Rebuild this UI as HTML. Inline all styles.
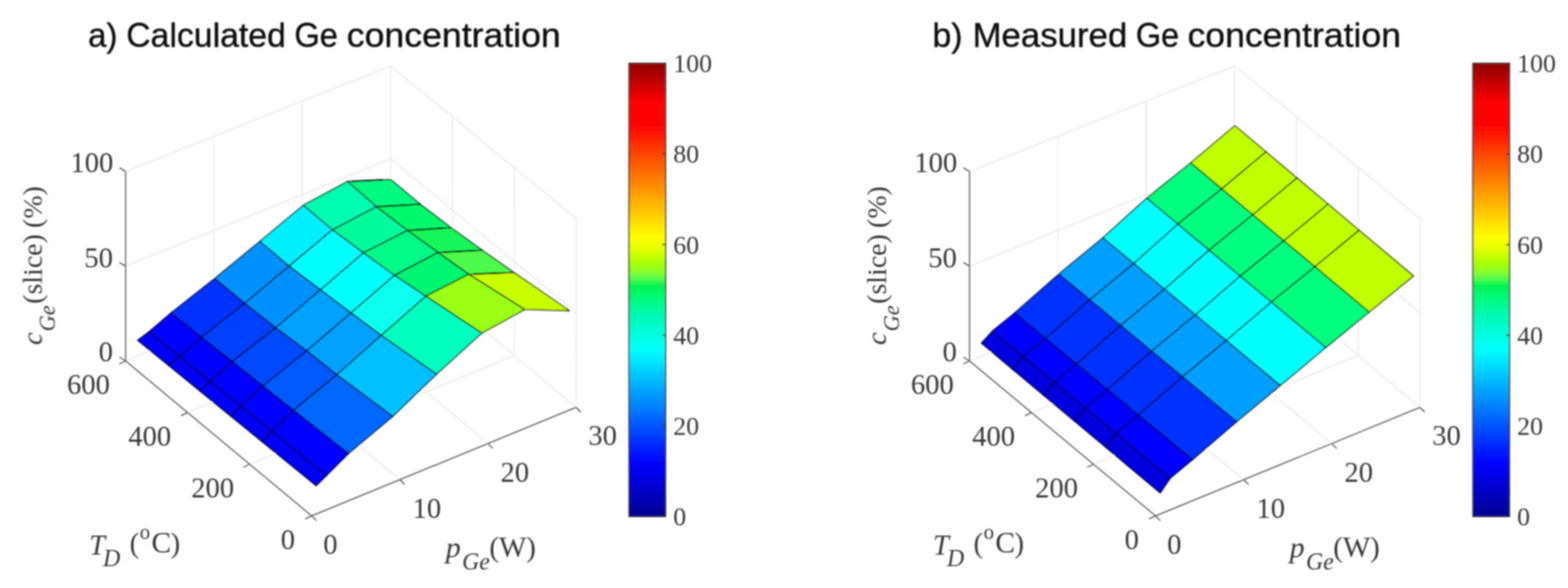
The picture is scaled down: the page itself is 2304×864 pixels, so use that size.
<!DOCTYPE html>
<html lang="en">
<head>
<meta charset="utf-8">
<title>Calculated and measured Ge concentration</title>
<style>
html,body{margin:0;padding:0;background:#fff;}
body{width:2304px;height:864px;overflow:hidden;}
svg{display:block;}
.g{stroke:#e6e6e6;stroke-width:1.4;fill:none;}
.a{stroke:#505050;stroke-width:1.6;fill:none;stroke-linejoin:miter;}
.f{stroke:#000;stroke-opacity:.82;stroke-width:1.75;stroke-linejoin:round;}
.cb{stroke:#333;stroke-width:1.8;fill:none;}
.t{font-family:"Liberation Serif","DejaVu Serif",serif;font-size:42px;fill:#383838;}
.h{stroke:#000;stroke-width:2.3;stroke-linecap:round;fill:none;}
.cbt{font-size:38px;}
.i{font-style:italic;}
.sub{font-size:31px;}
.sup{font-size:31px;}
.ttl{font-family:"Liberation Sans","DejaVu Sans",sans-serif;font-size:50px;fill:#0a0a0a;stroke:#0a0a0a;stroke-width:.5;}
</style>
</head>
<body>
<svg width="2304" height="864" viewBox="0 0 2304 864">
<defs><linearGradient id="jet" x1="0" y1="1" x2="0" y2="0"><stop offset="0.0078" stop-color="#000098"/><stop offset="0.0234" stop-color="#0000a7"/><stop offset="0.0391" stop-color="#0000b6"/><stop offset="0.0547" stop-color="#0000c5"/><stop offset="0.0703" stop-color="#0000d4"/><stop offset="0.0859" stop-color="#0000e2"/><stop offset="0.1016" stop-color="#0000f1"/><stop offset="0.1172" stop-color="#0000ff"/><stop offset="0.1328" stop-color="#0010ff"/><stop offset="0.1484" stop-color="#0020ff"/><stop offset="0.1641" stop-color="#0030ff"/><stop offset="0.1797" stop-color="#0040ff"/><stop offset="0.1953" stop-color="#0050ff"/><stop offset="0.2109" stop-color="#0060ff"/><stop offset="0.2266" stop-color="#0070ff"/><stop offset="0.2422" stop-color="#0080ff"/><stop offset="0.2578" stop-color="#008fff"/><stop offset="0.2734" stop-color="#009fff"/><stop offset="0.2891" stop-color="#00afff"/><stop offset="0.3047" stop-color="#00bfff"/><stop offset="0.3203" stop-color="#00cfff"/><stop offset="0.3359" stop-color="#00dfff"/><stop offset="0.3516" stop-color="#00efff"/><stop offset="0.3672" stop-color="#00ffff"/><stop offset="0.3828" stop-color="#00fff0"/><stop offset="0.3984" stop-color="#00ffe1"/><stop offset="0.4141" stop-color="#00fcd2"/><stop offset="0.4297" stop-color="#00fac3"/><stop offset="0.4453" stop-color="#00fab2"/><stop offset="0.4609" stop-color="#00fa9b"/><stop offset="0.4766" stop-color="#00fa84"/><stop offset="0.4922" stop-color="#00f86c"/><stop offset="0.5078" stop-color="#00f252"/><stop offset="0.5234" stop-color="#50fa50"/><stop offset="0.5391" stop-color="#87ff32"/><stop offset="0.5547" stop-color="#a0ff0a"/><stop offset="0.5703" stop-color="#beff00"/><stop offset="0.5859" stop-color="#dcff00"/><stop offset="0.6016" stop-color="#f0ff00"/><stop offset="0.6172" stop-color="#ffff00"/><stop offset="0.6328" stop-color="#ffef00"/><stop offset="0.6484" stop-color="#ffdf00"/><stop offset="0.6641" stop-color="#ffcf00"/><stop offset="0.6797" stop-color="#ffbf00"/><stop offset="0.6953" stop-color="#ffaf00"/><stop offset="0.7109" stop-color="#ff9f00"/><stop offset="0.7266" stop-color="#ff8f00"/><stop offset="0.7422" stop-color="#ff8000"/><stop offset="0.7578" stop-color="#ff7000"/><stop offset="0.7734" stop-color="#ff6000"/><stop offset="0.7891" stop-color="#ff5000"/><stop offset="0.8047" stop-color="#ff4000"/><stop offset="0.8203" stop-color="#ff3000"/><stop offset="0.8359" stop-color="#ff2000"/><stop offset="0.8516" stop-color="#ff1000"/><stop offset="0.8672" stop-color="#ff0000"/><stop offset="0.8828" stop-color="#ff0000"/><stop offset="0.8984" stop-color="#ff0000"/><stop offset="0.9141" stop-color="#fc0000"/><stop offset="0.9297" stop-color="#e80000"/><stop offset="0.9453" stop-color="#d40000"/><stop offset="0.9609" stop-color="#bf0000"/><stop offset="0.9766" stop-color="#ab0000"/><stop offset="0.9922" stop-color="#960000"/></linearGradient><filter id="soft" x="-2%" y="-2%" width="104%" height="104%"><feGaussianBlur stdDeviation="0.8"/></filter></defs>
<rect width="2304" height="864" fill="#fff"/>
<g filter="url(#soft)">

<text class="ttl" y="69.4"> <tspan x="129.5" textLength="43.0" lengthAdjust="spacingAndGlyphs">a)</tspan> <tspan x="185.5" textLength="234.5" lengthAdjust="spacingAndGlyphs">Calculated</tspan> <tspan x="432.5" textLength="64.0" lengthAdjust="spacingAndGlyphs">Ge</tspan> <tspan x="509.5" textLength="314.5" lengthAdjust="spacingAndGlyphs">concentration</tspan> </text>
<text class="ttl" y="69.4"> <tspan x="1370.0" textLength="44.5" lengthAdjust="spacingAndGlyphs">b)</tspan> <tspan x="1429.0" textLength="227.5" lengthAdjust="spacingAndGlyphs">Measured</tspan> <tspan x="1669.0" textLength="63.5" lengthAdjust="spacingAndGlyphs">Ge</tspan> <tspan x="1745.0" textLength="313.5" lengthAdjust="spacingAndGlyphs">concentration</tspan> </text>
<g>
<line class="g" x1="184.6" y1="252.0" x2="574.0" y2="97.0"/>
<line class="g" x1="184.6" y1="391.2" x2="574.0" y2="233.3"/>
<line class="g" x1="184.6" y1="530.4" x2="574.0" y2="369.6"/>
<line class="g" x1="314.4" y1="476.8" x2="314.4" y2="200.3"/>
<line class="g" x1="444.2" y1="423.2" x2="444.2" y2="148.7"/>
<line class="g" x1="574.0" y1="369.6" x2="574.0" y2="97.0"/>
<line class="g" x1="574.0" y1="97.0" x2="846.8" y2="321.1"/>
<line class="g" x1="574.0" y1="233.3" x2="846.6" y2="459.9"/>
<line class="g" x1="574.0" y1="369.6" x2="846.5" y2="598.6"/>
<line class="g" x1="664.8" y1="445.9" x2="664.9" y2="171.7"/>
<line class="g" x1="755.7" y1="522.3" x2="755.9" y2="246.4"/>
<line class="g" x1="846.5" y1="598.6" x2="846.8" y2="321.1"/>
<line class="g" x1="314.4" y1="476.8" x2="587.5" y2="704.9"/>
<line class="g" x1="275.7" y1="606.3" x2="664.8" y2="445.9"/>
<line class="g" x1="444.2" y1="423.2" x2="717.0" y2="651.7"/>
<line class="g" x1="366.9" y1="682.1" x2="755.7" y2="522.3"/>
<polyline class="a" points="184.6,252.0 184.6,530.4 458.0,758.0 846.5,598.6"/>
<line class="a" x1="184.6" y1="530.4" x2="175.6" y2="524.9"/>
<line class="a" x1="184.6" y1="391.2" x2="175.6" y2="385.7"/>
<line class="a" x1="184.6" y1="252.0" x2="175.6" y2="246.5"/>
<line class="a" x1="184.6" y1="530.4" x2="175.1" y2="534.9"/>
<line class="a" x1="275.7" y1="606.3" x2="266.2" y2="610.8"/>
<line class="a" x1="366.9" y1="682.1" x2="357.4" y2="686.6"/>
<line class="a" x1="458.0" y1="758.0" x2="448.5" y2="762.5"/>
<line class="a" x1="458.0" y1="758.0" x2="465.0" y2="765.0"/>
<line class="a" x1="587.5" y1="704.9" x2="594.5" y2="711.9"/>
<line class="a" x1="717.0" y1="651.7" x2="724.0" y2="658.7"/>
<line class="a" x1="846.5" y1="598.6" x2="853.5" y2="605.6"/>
<polygon class="f" fill="#00fa80" points="510.8,266.6 574.4,263.8 617.6,300.2 553.0,303.7"/>
<polygon class="f" fill="#00f86c" points="553.0,303.7 617.6,300.2 663.0,334.6 598.7,338.6"/>
<polygon class="f" fill="#18f65a" points="598.7,338.6 663.0,334.6 708.6,367.8 643.8,371.0"/>
<polygon class="f" fill="#50fa50" points="643.8,371.0 708.6,367.8 755.0,400.3 688.8,403.0"/>
<polygon class="f" fill="#c8ff00" points="688.8,403.0 755.0,400.3 837.0,456.6 771.0,454.7"/>
<polygon class="f" fill="#00fcb0" points="445.6,301.6 510.8,266.6 553.0,303.7 488.5,337.7"/>
<polygon class="f" fill="#00fa9c" points="488.5,337.7 553.0,303.7 598.7,338.6 534.1,371.5"/>
<polygon class="f" fill="#00fa88" points="534.1,371.5 598.7,338.6 643.8,371.0 579.6,404.6"/>
<polygon class="f" fill="#00f570" points="579.6,404.6 643.8,371.0 688.8,403.0 625.8,435.2"/>
<polygon class="f" fill="#9cff14" points="625.8,435.2 688.8,403.0 771.0,454.7 708.0,489.4"/>
<polygon class="f" fill="#00efff" points="381.8,354.6 445.6,301.6 488.5,337.7 424.8,391.0"/>
<polygon class="f" fill="#00ffff" points="424.8,391.0 488.5,337.7 534.1,371.5 470.8,425.8"/>
<polygon class="f" fill="#00ffff" points="470.8,425.8 534.1,371.5 579.6,404.6 515.9,459.7"/>
<polygon class="f" fill="#10ffef" points="515.9,459.7 579.6,404.6 625.8,435.2 560.1,492.8"/>
<polygon class="f" fill="#00ffbf" points="560.1,492.8 625.8,435.2 708.0,489.4 641.5,549.8"/>
<polygon class="f" fill="#0090ff" points="315.4,409.3 381.8,354.6 424.8,391.0 359.7,445.7"/>
<polygon class="f" fill="#0090ff" points="359.7,445.7 424.8,391.0 470.8,425.8 405.2,481.7"/>
<polygon class="f" fill="#00a0ff" points="405.2,481.7 470.8,425.8 515.9,459.7 450.8,515.5"/>
<polygon class="f" fill="#00a0ff" points="450.8,515.5 515.9,459.7 560.1,492.8 495.0,550.7"/>
<polygon class="f" fill="#00bfff" points="495.0,550.7 560.1,492.8 641.5,549.8 577.1,611.9"/>
<polygon class="f" fill="#0030ff" points="251.0,459.9 315.4,409.3 359.7,445.7 296.1,495.6"/>
<polygon class="f" fill="#0040ff" points="296.1,495.6 359.7,445.7 405.2,481.7 341.1,531.3"/>
<polygon class="f" fill="#0048ff" points="341.1,531.3 405.2,481.7 450.8,515.5 386.2,567.1"/>
<polygon class="f" fill="#0058ff" points="386.2,567.1 450.8,515.5 495.0,550.7 431.3,602.8"/>
<polygon class="f" fill="#0068ff" points="431.3,602.8 495.0,550.7 577.1,611.9 512.2,666.4"/>
<polygon class="f" fill="#0000ff" points="218.8,487.5 251.0,459.9 296.1,495.6 264.0,524.0"/>
<polygon class="f" fill="#0000ff" points="264.0,524.0 296.1,495.6 341.1,531.3 309.1,560.5"/>
<polygon class="f" fill="#0000ff" points="309.1,560.5 341.1,531.3 386.2,567.1 354.3,597.1"/>
<polygon class="f" fill="#0000ff" points="354.3,597.1 386.2,567.1 431.3,602.8 399.5,633.6"/>
<polygon class="f" fill="#0000ff" points="399.5,633.6 431.3,602.8 512.2,666.4 479.7,699.0"/>
<polygon class="f" fill="#0000f4" points="202.0,499.9 218.8,487.5 264.0,524.0 247.7,537.1"/>
<polygon class="f" fill="#0000f4" points="247.7,537.1 264.0,524.0 309.1,560.5 293.3,574.3"/>
<polygon class="f" fill="#0000f4" points="293.3,574.3 309.1,560.5 354.3,597.1 339.0,611.5"/>
<polygon class="f" fill="#0000f4" points="339.0,611.5 354.3,597.1 399.5,633.6 384.7,648.7"/>
<polygon class="f" fill="#0000f4" points="384.7,648.7 399.5,633.6 479.7,699.0 464.6,713.8"/>
<line class="h" x1="518.4" y1="266.3" x2="561.7" y2="264.4"/>
<line class="h" x1="560.8" y1="303.3" x2="604.7" y2="300.9"/>
<line class="h" x1="606.4" y1="338.1" x2="650.1" y2="335.4"/>
<line class="h" x1="651.6" y1="370.6" x2="695.6" y2="368.4"/>
<line class="h" x1="696.7" y1="402.7" x2="741.8" y2="400.8"/>
<text class="t" text-anchor="end" transform="translate(166.5,253.0) scale(1.000,1)">100</text>
<text class="t" text-anchor="end" transform="translate(166.0,393.0) scale(1.000,1)">50</text>
<text class="t" text-anchor="end" transform="translate(166.0,531.0) scale(1.000,1)">0</text>
<text class="t" text-anchor="end" transform="translate(161.5,579.0) scale(1.000,1)">600</text>
<text class="t" text-anchor="end" transform="translate(251.5,655.0) scale(1.000,1)">400</text>
<text class="t" text-anchor="end" transform="translate(344.0,731.3) scale(1.000,1)">200</text>
<text class="t" text-anchor="end" transform="translate(433.5,807.0) scale(1.000,1)">0</text>
<text class="t" text-anchor="start" transform="translate(475.0,813.5) scale(1.000,1)">0</text>
<text class="t" text-anchor="start" transform="translate(606.3,761.0) scale(1.000,1)">10</text>
<text class="t" text-anchor="start" transform="translate(735.5,708.0) scale(1.000,1)">20</text>
<text class="t" text-anchor="start" transform="translate(864.5,654.3) scale(1.000,1)">30</text>
<text class="t" transform="translate(131.0,814.8)"><tspan class="i" x="0.0" y="0.0" font-size="42">T</tspan><tspan class="i" x="20.5" y="17.0" font-size="35">D</tspan><tspan x="59.5" y="-2.5" font-size="42">(</tspan><tspan x="74.3" y="-23.0" font-size="31">o</tspan><tspan x="91.5" y="-2.5" font-size="43.5">C</tspan><tspan x="119.7" y="-2.5" font-size="42">)</tspan></text>
<text class="t" transform="translate(654.0,818.5)"><tspan class="i" x="1.0" y="0.0" font-size="44">p</tspan><tspan class="i" x="25.0" y="18.6" font-size="35">Ge</tspan><tspan x="65.0" y="-0.5" font-size="42.5">(W)</tspan></text>
<text class="t" transform="translate(61.5,507.0) rotate(-90)"><tspan class="i" x="0.0" y="0.0" font-size="42">c</tspan><tspan class="i" x="20.0" y="19.0" font-size="33">Ge</tspan><tspan x="60.5" y="0.0" font-size="41">(slice)</tspan><tspan x="172.0" y="0.0" font-size="41">(%)</tspan></text>
<rect x="924.3" y="93.0" width="53.7" height="666.0" fill="url(#jet)"/>
<rect class="cb" x="924.3" y="93.0" width="53.7" height="666.0"/>
<line class="cb" x1="973.0" y1="625.8" x2="978.0" y2="625.8"/>
<line class="cb" x1="973.0" y1="492.6" x2="978.0" y2="492.6"/>
<line class="cb" x1="973.0" y1="359.4" x2="978.0" y2="359.4"/>
<line class="cb" x1="973.0" y1="226.2" x2="978.0" y2="226.2"/>
<text class="t cbt" text-anchor="start" transform="translate(989.2,772.2) scale(1.000,1)">0</text>
<text class="t cbt" text-anchor="start" transform="translate(989.2,639.0) scale(1.000,1)">20</text>
<text class="t cbt" text-anchor="start" transform="translate(989.2,505.8) scale(1.000,1)">40</text>
<text class="t cbt" text-anchor="start" transform="translate(989.2,372.6) scale(1.000,1)">60</text>
<text class="t cbt" text-anchor="start" transform="translate(989.2,239.4) scale(1.000,1)">80</text>
<text class="t cbt" text-anchor="start" transform="translate(989.2,106.2) scale(1.000,1)">100</text>
</g>
<g>
<line class="g" x1="1424.6" y1="252.0" x2="1814.0" y2="97.0"/>
<line class="g" x1="1424.6" y1="391.2" x2="1814.0" y2="233.3"/>
<line class="g" x1="1424.6" y1="530.4" x2="1814.0" y2="369.6"/>
<line class="g" x1="1554.4" y1="476.8" x2="1554.4" y2="200.3"/>
<line class="g" x1="1684.2" y1="423.2" x2="1684.2" y2="148.7"/>
<line class="g" x1="1814.0" y1="369.6" x2="1814.0" y2="97.0"/>
<line class="g" x1="1814.0" y1="97.0" x2="2086.8" y2="321.1"/>
<line class="g" x1="1814.0" y1="233.3" x2="2086.7" y2="459.9"/>
<line class="g" x1="1814.0" y1="369.6" x2="2086.5" y2="598.6"/>
<line class="g" x1="1904.8" y1="445.9" x2="1904.9" y2="171.7"/>
<line class="g" x1="1995.7" y1="522.3" x2="1995.9" y2="246.4"/>
<line class="g" x1="2086.5" y1="598.6" x2="2086.8" y2="321.1"/>
<line class="g" x1="1554.4" y1="476.8" x2="1827.5" y2="704.9"/>
<line class="g" x1="1515.7" y1="606.3" x2="1904.8" y2="445.9"/>
<line class="g" x1="1684.2" y1="423.2" x2="1957.0" y2="651.7"/>
<line class="g" x1="1606.9" y1="682.1" x2="1995.7" y2="522.3"/>
<polyline class="a" points="1424.6,252.0 1424.6,530.4 1698.0,758.0 2086.5,598.6"/>
<line class="a" x1="1424.6" y1="530.4" x2="1415.6" y2="524.9"/>
<line class="a" x1="1424.6" y1="391.2" x2="1415.6" y2="385.7"/>
<line class="a" x1="1424.6" y1="252.0" x2="1415.6" y2="246.5"/>
<line class="a" x1="1424.6" y1="530.4" x2="1415.1" y2="534.9"/>
<line class="a" x1="1515.7" y1="606.3" x2="1506.2" y2="610.8"/>
<line class="a" x1="1606.9" y1="682.1" x2="1597.4" y2="686.6"/>
<line class="a" x1="1698.0" y1="758.0" x2="1688.5" y2="762.5"/>
<line class="a" x1="1698.0" y1="758.0" x2="1705.0" y2="765.0"/>
<line class="a" x1="1827.5" y1="704.9" x2="1834.5" y2="711.9"/>
<line class="a" x1="1957.0" y1="651.7" x2="1964.0" y2="658.7"/>
<line class="a" x1="2086.5" y1="598.6" x2="2093.5" y2="605.6"/>
<polygon class="f" fill="#bfff00" points="1749.6,239.4 1814.5,184.7 1860.2,223.1 1795.2,277.5"/>
<polygon class="f" fill="#bfff00" points="1795.2,277.5 1860.2,223.1 1905.8,261.5 1840.8,315.6"/>
<polygon class="f" fill="#bfff00" points="1840.8,315.6 1905.8,261.5 1951.5,299.9 1886.5,353.8"/>
<polygon class="f" fill="#bfff00" points="1886.5,353.8 1951.5,299.9 1997.1,338.3 1932.1,391.9"/>
<polygon class="f" fill="#bfff00" points="1932.1,391.9 1997.1,338.3 2077.0,405.5 2011.9,458.6"/>
<polygon class="f" fill="#00ff7f" points="1685.0,291.1 1749.6,239.4 1795.2,277.5 1730.7,329.3"/>
<polygon class="f" fill="#00ff7f" points="1730.7,329.3 1795.2,277.5 1840.8,315.6 1776.5,367.5"/>
<polygon class="f" fill="#00ff7f" points="1776.5,367.5 1840.8,315.6 1886.5,353.8 1822.2,405.7"/>
<polygon class="f" fill="#00ff7f" points="1822.2,405.7 1886.5,353.8 1932.1,391.9 1868.0,443.9"/>
<polygon class="f" fill="#00ff7f" points="1868.0,443.9 1932.1,391.9 2011.9,458.6 1948.0,510.7"/>
<polygon class="f" fill="#00ffff" points="1620.5,349.4 1685.0,291.1 1730.7,329.3 1665.9,387.2"/>
<polygon class="f" fill="#00ffff" points="1665.9,387.2 1730.7,329.3 1776.5,367.5 1711.2,424.9"/>
<polygon class="f" fill="#00ffff" points="1711.2,424.9 1776.5,367.5 1822.2,405.7 1756.6,462.7"/>
<polygon class="f" fill="#00ffff" points="1756.6,462.7 1822.2,405.7 1868.0,443.9 1801.9,500.4"/>
<polygon class="f" fill="#00ffff" points="1801.9,500.4 1868.0,443.9 1948.0,510.7 1881.3,566.5"/>
<polygon class="f" fill="#009fff" points="1555.8,402.7 1620.5,349.4 1665.9,387.2 1601.3,440.4"/>
<polygon class="f" fill="#009fff" points="1601.3,440.4 1665.9,387.2 1711.2,424.9 1646.7,478.1"/>
<polygon class="f" fill="#009fff" points="1646.7,478.1 1711.2,424.9 1756.6,462.7 1692.2,515.9"/>
<polygon class="f" fill="#009fff" points="1692.2,515.9 1756.6,462.7 1801.9,500.4 1737.6,553.6"/>
<polygon class="f" fill="#009fff" points="1737.6,553.6 1801.9,500.4 1881.3,566.5 1817.2,619.6"/>
<polygon class="f" fill="#0030ff" points="1490.8,459.9 1555.8,402.7 1601.3,440.4 1536.3,497.4"/>
<polygon class="f" fill="#0030ff" points="1536.3,497.4 1601.3,440.4 1646.7,478.1 1581.7,534.9"/>
<polygon class="f" fill="#0030ff" points="1581.7,534.9 1646.7,478.1 1692.2,515.9 1627.2,572.4"/>
<polygon class="f" fill="#0030ff" points="1627.2,572.4 1692.2,515.9 1737.6,553.6 1672.6,609.9"/>
<polygon class="f" fill="#0030ff" points="1672.6,609.9 1737.6,553.6 1817.2,619.6 1752.2,675.5"/>
<polygon class="f" fill="#0000ff" points="1458.4,486.3 1490.8,459.9 1536.3,497.4 1503.8,524.0"/>
<polygon class="f" fill="#0000ff" points="1503.8,524.0 1536.3,497.4 1581.7,534.9 1549.2,561.6"/>
<polygon class="f" fill="#0000ff" points="1549.2,561.6 1581.7,534.9 1627.2,572.4 1594.6,599.3"/>
<polygon class="f" fill="#0000ff" points="1594.6,599.3 1627.2,572.4 1672.6,609.9 1640.0,637.0"/>
<polygon class="f" fill="#0000ff" points="1640.0,637.0 1672.6,609.9 1752.2,675.5 1719.4,702.9"/>
<polygon class="f" fill="#0000df" points="1441.9,504.2 1458.4,486.3 1503.8,524.0 1487.6,542.5"/>
<polygon class="f" fill="#0000df" points="1487.6,542.5 1503.8,524.0 1549.2,561.6 1533.3,580.8"/>
<polygon class="f" fill="#0000df" points="1533.3,580.8 1549.2,561.6 1594.6,599.3 1579.1,619.1"/>
<polygon class="f" fill="#0000df" points="1579.1,619.1 1594.6,599.3 1640.0,637.0 1624.8,657.4"/>
<polygon class="f" fill="#0000df" points="1624.8,657.4 1640.0,637.0 1719.4,702.9 1704.8,724.4"/>
<text class="t" text-anchor="end" transform="translate(1406.5,253.0) scale(1.000,1)">100</text>
<text class="t" text-anchor="end" transform="translate(1406.0,393.0) scale(1.000,1)">50</text>
<text class="t" text-anchor="end" transform="translate(1406.0,531.0) scale(1.000,1)">0</text>
<text class="t" text-anchor="end" transform="translate(1401.5,579.0) scale(1.000,1)">600</text>
<text class="t" text-anchor="end" transform="translate(1491.5,655.0) scale(1.000,1)">400</text>
<text class="t" text-anchor="end" transform="translate(1584.0,731.3) scale(1.000,1)">200</text>
<text class="t" text-anchor="end" transform="translate(1673.5,807.0) scale(1.000,1)">0</text>
<text class="t" text-anchor="start" transform="translate(1715.0,813.5) scale(1.000,1)">0</text>
<text class="t" text-anchor="start" transform="translate(1846.3,761.0) scale(1.000,1)">10</text>
<text class="t" text-anchor="start" transform="translate(1975.5,708.0) scale(1.000,1)">20</text>
<text class="t" text-anchor="start" transform="translate(2104.5,654.3) scale(1.000,1)">30</text>
<text class="t" transform="translate(1371.0,814.8)"><tspan class="i" x="0.0" y="0.0" font-size="42">T</tspan><tspan class="i" x="20.5" y="17.0" font-size="35">D</tspan><tspan x="59.5" y="-2.5" font-size="42">(</tspan><tspan x="74.3" y="-23.0" font-size="31">o</tspan><tspan x="91.5" y="-2.5" font-size="43.5">C</tspan><tspan x="119.7" y="-2.5" font-size="42">)</tspan></text>
<text class="t" transform="translate(1894.0,818.5)"><tspan class="i" x="1.0" y="0.0" font-size="44">p</tspan><tspan class="i" x="25.0" y="18.6" font-size="35">Ge</tspan><tspan x="65.0" y="-0.5" font-size="42.5">(W)</tspan></text>
<text class="t" transform="translate(1301.5,507.0) rotate(-90)"><tspan class="i" x="0.0" y="0.0" font-size="42">c</tspan><tspan class="i" x="20.0" y="19.0" font-size="33">Ge</tspan><tspan x="60.5" y="0.0" font-size="41">(slice)</tspan><tspan x="172.0" y="0.0" font-size="41">(%)</tspan></text>
<rect x="2164.3" y="93.0" width="53.7" height="666.0" fill="url(#jet)"/>
<rect class="cb" x="2164.3" y="93.0" width="53.7" height="666.0"/>
<line class="cb" x1="2213.0" y1="625.8" x2="2218.0" y2="625.8"/>
<line class="cb" x1="2213.0" y1="492.6" x2="2218.0" y2="492.6"/>
<line class="cb" x1="2213.0" y1="359.4" x2="2218.0" y2="359.4"/>
<line class="cb" x1="2213.0" y1="226.2" x2="2218.0" y2="226.2"/>
<text class="t cbt" text-anchor="start" transform="translate(2229.2,772.2) scale(1.000,1)">0</text>
<text class="t cbt" text-anchor="start" transform="translate(2229.2,639.0) scale(1.000,1)">20</text>
<text class="t cbt" text-anchor="start" transform="translate(2229.2,505.8) scale(1.000,1)">40</text>
<text class="t cbt" text-anchor="start" transform="translate(2229.2,372.6) scale(1.000,1)">60</text>
<text class="t cbt" text-anchor="start" transform="translate(2229.2,239.4) scale(1.000,1)">80</text>
<text class="t cbt" text-anchor="start" transform="translate(2229.2,106.2) scale(1.000,1)">100</text>
</g>
</g>
</svg>
</body>
</html>
